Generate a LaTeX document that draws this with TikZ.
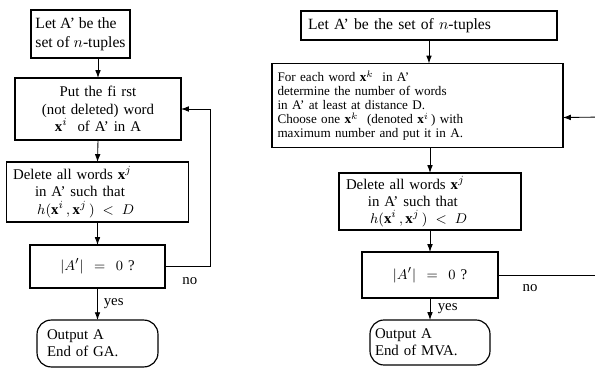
\documentclass[tikz,border=0pt]{standalone}
\usepackage{fontspec}
\setmainfont{Liberation Serif}
\usetikzlibrary{arrows.meta,calc}
\newcommand{\mvatight}{\fontsize{8.4}{9}\selectfont\lineskiplimit=-10pt\relax}

\begin{document}
\begin{tikzpicture}[x=0.64pt,y=-0.64pt,inner sep=0pt,outer sep=0pt,line width=0.55pt,
>={Latex[length=5pt,width=3.6pt]},
flowbox/.style={draw,rectangle,line width=0.75pt,inner ysep=0pt,font=\fontsize{9.5}{11}\selectfont},
endbox/.style={flowbox,rounded corners=9pt},
lbl/.style={inner sep=1pt,font=\fontsize{9.5}{11}\selectfont}]
\useasboundingbox (0,0) rectangle (595,372);
\clip (0,0) rectangle (595,372);
% GA
\draw (80.5,34) node[flowbox,minimum width=63.4pt,minimum height=30.7pt,align=left,
  font=\fontsize{10}{12}\selectfont] (g1)
  {Let A' be the\\ set of $n$-tuples};
\draw (98,109) node[flowbox,text width=106.2pt,minimum height=39.7pt,align=center] (g2)
  {Put the fi rst\\ (not deleted) word\\ $\mathbf{x}^i$\ \ of A' in A};
\draw (97.5,192) node[flowbox,inner xsep=4.5pt,text width=108pt,minimum height=38.4pt,align=left] (g3)
  {Delete all words $\mathbf{x}^j$\\ \hspace*{14pt}in A' such that\\ \hspace*{15.4pt}$h(\mathbf{x}^i\,,\mathbf{x}^j\,)\;<\;D$};
\draw (97.5,266.5) node[flowbox,text width=86.4pt,minimum height=27.5pt,align=center] (g4)
  {$|A'|\,=\,0$ ?};
\draw (97.5,343.5) node[endbox,inner xsep=6.4pt,text width=64.6pt,minimum height=30pt,align=left] (g5)
  {Output A\\ End of GA.};
\draw[->] (g2.north |- g1.south) -- (g2.north);
\draw[->] (g2.south) -- (g3.north);
\draw[->] (g3.south) -- (g4.north);
\draw[->] (g4.south) -- (g5.north) node[lbl,midway,right=3pt] {yes};
\draw[->] (g4.east) -- ++(45,0) node[lbl,pos=0.55,below=6pt] {no} |- (g2.east);
% MVA
\draw (429,25.5) node[flowbox,inner xsep=4.5pt,text width=154.8pt,minimum height=18.6pt,align=left,
  font=\fontsize{10}{12}\selectfont] (m1)
  {Let A' be the set of $n$-tuples};
\draw (417.5,105.5) node[flowbox,inner xsep=3.5pt,text width=179.2pt,minimum height=53.8pt,align=left,
  font=\mvatight] (m2)
  {For each word $\mathbf{x}^k$\ \ in A'\\ determine the number of words\\ in A' at least at distance D.\\
   Choose one $\mathbf{x}^k$\ \ (denoted $\mathbf{x}^i$\,) with\\ maximum number and put it in A.};
\draw (430,201.5) node[flowbox,inner xsep=4.5pt,text width=107.5pt,minimum height=36.5pt,align=left] (m3)
  {Delete all words $\mathbf{x}^j$\\ \hspace*{14pt}in A' such that\\ \hspace*{15.4pt}$h(\mathbf{x}^i\,,\mathbf{x}^j\,)\;<\;D$};
\draw (430,275) node[flowbox,text width=87pt,minimum height=29.4pt,align=center] (m4)
  {$|A'|\,=\,0$ ?};
\draw (430,342.5) node[endbox,inner xsep=3.2pt,text width=70.4pt,minimum height=28.8pt,align=left] (m5)
  {Output A\\ End of MVA.};
\coordinate (m2in) at ($(m2.north east)!0.643!(m2.south east)$);
\coordinate (mback) at (605,117);
\draw[->] (m1.south) -- (m1.south |- m2.north);
\draw[->] (m3.north |- m2.south) -- (m3.north);
\draw[->] (m3.south) -- (m4.north);
\draw[->] (m4.south) -- (m5.north) node[lbl,midway,right=4pt] {yes};
\draw (m4.east) -- (m4.east -| mback) node[lbl,pos=0.3,below=5pt] {no} -- (mback);
\draw[->] (mback) -- (m2in);
\end{tikzpicture}
\end{document}
